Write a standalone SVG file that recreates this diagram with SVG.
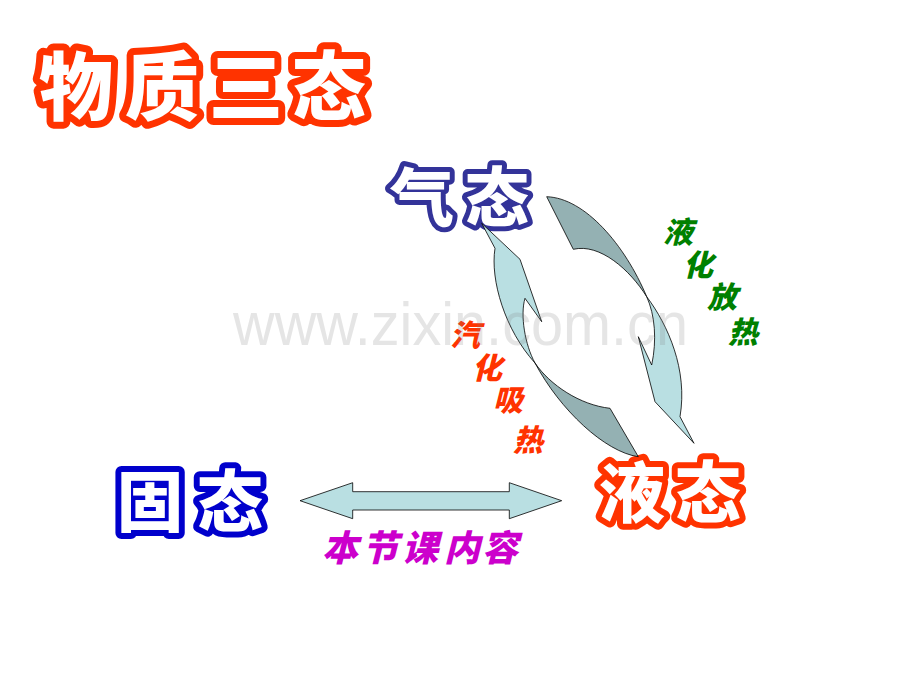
<svg xmlns="http://www.w3.org/2000/svg" width="920" height="690" viewBox="0 0 920 690">
<style>
.hollow{font-family:"Noto Sans CJK SC","Noto Sans CJK JP",sans-serif;font-weight:900;fill:#fff;paint-order:stroke;stroke-linejoin:round;stroke-linecap:round;text-anchor:middle}
.brush{font-family:"Noto Sans CJK SC","Noto Sans CJK JP",sans-serif;font-weight:900;text-anchor:middle;font-style:italic}
.light{fill:#B9DFE2;stroke:#000;stroke-width:0.8;stroke-linejoin:miter}
.dark{fill:#94B1B3;stroke:#000;stroke-width:0.8}
</style>
<rect width="920" height="690" fill="#fff"/>
<g id="title">
<text class="hollow" x="76 162 246 329" y="114" font-size="74" stroke="#FF3300" stroke-width="14">物质三态</text>
</g>
<g id="gas">
<text class="hollow" x="422 497" y="221" font-size="64" stroke="#333399" stroke-width="10">气态</text>
</g>
<g id="solid">
<text class="hollow" x="150 230" y="526" font-size="66" stroke="#0000CC" stroke-width="12">固态</text>
</g>
<g id="liquid">
<text class="hollow" x="632 708" y="517" font-size="66" stroke="#FF3300" stroke-width="12">液态</text>
</g>
<g id="connectors">
<g id="vaporize-arrow">
<path class="dark" d="M535,363 C550,385 580,405 610,408.3 L638.3,456.7 C605,452 560,410 535,363 Z"/>
<path class="light" d="M481.7,223.3 L495,248.3 C490,280 505,330 535,363 C525,345 520,315 525,298.3 L541.7,321.7 L520,259.3 Z"/>
</g>
<g id="liquefy-arrow">
<path class="dark" d="M546.7,196.7 C585,198 625,245 646.7,296.7 C630,270 600,243 573.3,249.3 Z"/>
<path class="light" d="M646.7,296.7 C668,325 688,370 680,416.7 L694,443.3 L655,401.7 L638.3,336.7 L651.7,365 C657,340 655,315 646.7,296.7 Z"/>
</g>
<g id="double-arrow">
<polygon class="light" points="300,500.7 352.7,482.7 352.7,491.7 509.3,491.7 509.3,482.7 561.7,500.7 509.3,518.7 509.3,510 352.7,510 352.7,518.7"/>
</g>
</g>
<g id="label-vaporize">
<text class="brush" x="465 487 508 528" y="346 379 411 451" font-size="30" fill="#FF3300">汽化吸热</text>
</g>
<g id="label-liquefy">
<text class="brush" x="678 698 722 743" y="243 276 308 343" font-size="30" fill="#008000">液化放热</text>
</g>
<g id="label-content">
<text class="brush" x="340 380 420 462 500" y="561" font-size="36" fill="#CC00CC">本节课内容</text>
</g>
<g id="watermark">
<text x="233" y="345" font-family="Liberation Sans, Arial, sans-serif" font-size="62" textLength="455" lengthAdjust="spacingAndGlyphs" fill="#808080" opacity="0.2">www.zixin.com.cn</text>
</g>
</svg>
